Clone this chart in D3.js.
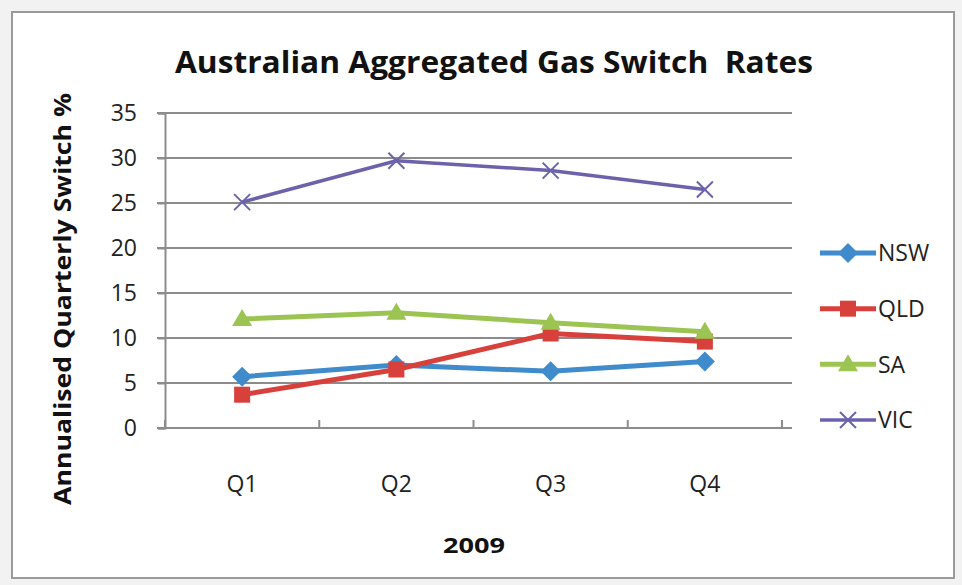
<!DOCTYPE html>
<html><head><meta charset="utf-8">
<script src="https://cdn.jsdelivr.net/npm/d3@7"></script>
<style>body{margin:0;background:#fff}svg{display:block}</style>
</head><body>
<svg id="c" width="962" height="585"></svg>
<script>
const categories = ["Q1","Q2","Q3","Q4"];
const seriesNames = ["NSW","QLD","SA","VIC"];
const NSW = [5.7, 7.0, 6.3, 7.4];
const QLD = [3.7, 6.5, 10.5, 9.6];
const SA  = [12.1, 12.8, 11.7, 10.7];
const VIC = [25.1, 29.7, 28.6, 26.5];
const yTicks = [0,5,10,15,20,25,30,35];
const title = "Australian Aggregated Gas Switch  Rates";
const yTitle = "Annualised Quarterly Switch %";
const xTitle = "2009";

const colors = {NSW:"#3f8bcb", QLD:"#d8403c", SA:"#9cc452", VIC:"#6c62ac"};
const widths = {NSW:5, QLD:5, SA:5, VIC:3.5};
const data = {NSW, QLD, SA, VIC};

const svg = d3.select("#c");
const font = "'Open Sans', 'Liberation Sans', sans-serif";

// frame
svg.append("rect").attr("x",0).attr("y",0).attr("width",962).attr("height",585).attr("fill","#f2f2f2");
svg.append("rect").attr("x",12).attr("y",12).attr("width",942).attr("height",566)
  .attr("fill","#fff").attr("stroke","#9a9a9a").attr("stroke-width",2);

const x = d3.scaleBand().domain(categories).range([165,782]);
const y = d3.scaleLinear().domain([0,35]).range([428,113]);

// gridlines
svg.append("g").selectAll("line").data(yTicks.filter(d=>d>0)).join("line")
  .attr("x1",157).attr("x2",792).attr("y1",d=>y(d)).attr("y2",d=>y(d))
  .attr("stroke","#8c8c8c").attr("stroke-width",2);

// y axis
const ya = svg.append("g").attr("transform","translate(165,0)")
  .call(d3.axisLeft(y).tickValues(yTicks).tickSize(7).tickPadding(21));
ya.select(".domain").attr("stroke","#8c8c8c").attr("stroke-width",2);
ya.selectAll(".tick line").attr("stroke","#8c8c8c").attr("stroke-width",2);
ya.selectAll("text").attr("font-family",font).attr("font-size",23).attr("fill","#222");

// x axis
const xa = svg.append("g").attr("transform",`translate(0,${y(0)})`)
  .call(d3.axisBottom(x).tickSize(0).tickPadding(48));
xa.select(".domain").attr("stroke","#8c8c8c").attr("stroke-width",2).attr("d","M157,0H792");
xa.selectAll("text").attr("font-family",font).attr("font-size",23).attr("fill","#222");
const bounds = categories.map(c=>x(c)).concat([x.range()[1]]);
xa.selectAll(".b").data(bounds).join("line").attr("class","b")
  .attr("x1",d=>d).attr("x2",d=>d).attr("y1",0).attr("y2",-8)
  .attr("stroke","#8c8c8c").attr("stroke-width",2);

const cx = c => x(c) + x.bandwidth()/2;

function marker(g, name, px, py, s) {
  const col = colors[name];
  if (name==="NSW") {
    g.append("path").attr("d",`M${px},${py-s}L${px+s},${py}L${px},${py+s}L${px-s},${py}Z`).attr("fill",col);
  } else if (name==="QLD") {
    g.append("rect").attr("x",px-s*0.8).attr("y",py-s*0.8).attr("width",s*1.6).attr("height",s*1.6).attr("fill",col);
  } else if (name==="SA") {
    g.append("path").attr("d",`M${px},${py-s}L${px+s},${py+s*0.7}L${px-s},${py+s*0.7}Z`).attr("fill",col);
  } else {
    g.append("path").attr("d",`M${px-s*0.8},${py-s*0.8}L${px+s*0.8},${py+s*0.8}M${px-s*0.8},${py+s*0.8}L${px+s*0.8},${py-s*0.8}`)
      .attr("stroke",col).attr("stroke-width",2);
  }
}

const line = d3.line().x((d,i)=>cx(categories[i])).y(d=>y(d));
seriesNames.forEach(name=>{
  const g = svg.append("g");
  g.append("path").datum(data[name]).attr("d",line).attr("fill","none")
    .attr("stroke",colors[name]).attr("stroke-width",widths[name]).attr("stroke-linejoin","round");
  data[name].forEach((v,i)=>marker(g,name,cx(categories[i]),y(v),10));
});

// legend
const ly = d3.scalePoint().domain(seriesNames).range([253,420]);
seriesNames.forEach(name=>{
  const g = svg.append("g");
  const yy = ly(name);
  g.append("line").attr("x1",820).attr("x2",876).attr("y1",yy).attr("y2",yy)
    .attr("stroke",colors[name]).attr("stroke-width",widths[name]);
  marker(g,name,848,yy,10);
  g.append("text").attr("x",878).attr("y",yy).attr("dy","0.36em").text(name)
    .attr("font-family",font).attr("font-size",23).attr("fill","#222");
});

// titles
svg.append("text").attr("x",494).attr("y",73).attr("text-anchor","middle")
  .style("white-space","pre")
  .attr("font-family",font).attr("font-weight","bold").attr("font-size",31).attr("fill","#111")
  .attr("textLength",638).attr("lengthAdjust","spacingAndGlyphs").text(title);
svg.append("text").attr("transform","translate(71,299) rotate(-90)").attr("text-anchor","middle")
  .attr("font-family",font).attr("font-weight","bold").attr("font-size",24).attr("fill","#111")
  .attr("textLength",412).attr("lengthAdjust","spacingAndGlyphs").text(yTitle);
svg.append("text").attr("x",474).attr("y",553).attr("text-anchor","middle")
  .attr("font-family",font).attr("font-weight","bold").attr("font-size",22).attr("fill","#111")
  .attr("textLength",62).attr("lengthAdjust","spacingAndGlyphs").text(xTitle);
</script>
</body></html>
